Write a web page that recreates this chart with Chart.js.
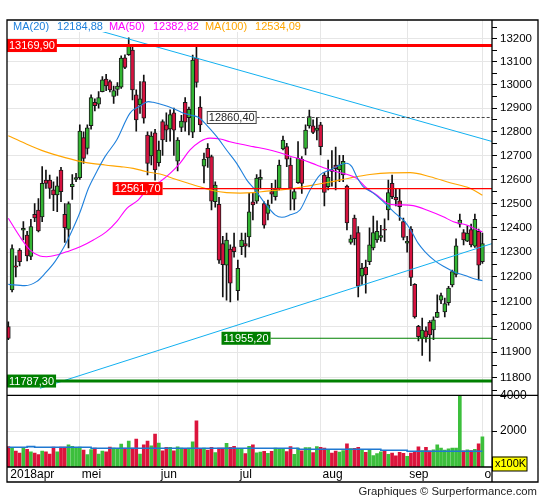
<!DOCTYPE html>
<html>
<head>
<meta charset="utf-8">
<script src="https://cdn.jsdelivr.net/npm/chart.js@4.4.1/dist/chart.umd.min.js"></script>
<style>
  html, body { margin: 0; padding: 0; background: #fff; }
  #wrap { position: relative; width: 545px; height: 500px; }
  #wrap canvas { position: absolute; left: 0; top: 0; }
</style>
</head>
<body>
<div id="wrap">
  <canvas id="vol" width="545" height="500"></canvas>
  <canvas id="price" width="545" height="500"></canvas>
</div>
<script>
// ---- data (trading day index 0 = 4 apr 2018 ... 126 = 1 okt 2018) ----
const monthLabels = ['2018apr', 'mei', 'jun', 'jul', 'aug', 'sep', 'okt'];
const monthStarts = [0, 19, 40, 61, 83, 106, 126];

const opens = [
  12001,12148,12245,12309,12390,12370,12283,12455,12473,12445,
  12597,12597,12556,12535,12639,12455,12393,12570,12600,12607,
  12775,12730,12826,12925,12917,12971,13025,13014,12950,12980,
  12990,13117,13130,13150,12957,12914,13014,12786,12698,12795,
  12670,12843,12829,12812,12880,12676,12818,12925,12860,12798,
  13115,12905,12655,12730,12695,12507,12496,12335,12248,12313,
  12322,12145,12323,12335,12363,12507,12510,12600,12500,12459,
  12549,12528,12562,12727,12737,12660,12518,12586,12684,12730,
  12825,12825,12805,12829,12618,12570,12640,12660,12640,12618,
  12572,12340,12440,12380,12203,12240,12262,12318,12350,12360,
  12395,12473,12583,12525,12511,12425,12337,12395,12170,12002,
  11955,11985,12018,11988,12038,12107,12060,12097,12168,12210,
  12415,12380,12345,12393,12325,12385,12262
];
const highs = [
  12020,12330,12285,12315,12425,12385,12435,12500,12520,12653,
  12639,12618,12590,12611,12650,12500,12507,12620,12625,12829,
  12800,12829,12957,12940,12971,13035,13045,13020,12995,13010,
  13125,13130,13204,13165,12978,13014,13042,12800,12800,12810,
  12760,12850,12880,12893,12900,12775,12870,12945,12905,13128,
  13169.9,12950,12710,12750,12702,12590,12525,12365,12378,12330,
  12378,12268,12378,12378,12542,12542,12620,12640,12507,12514,
  12583,12597,12681,12782,12751,12690,12562,12758,12695,12829,
  12892,12850,12860,12840,12628,12681,12720,12735,12700,12700,
  12576,12370,12452,12405,12255,12268,12400,12448,12428,12410,
  12437,12597,12618,12560,12560,12440,12365,12405,12173,12006,
  12035,12000,12025,12040,12128,12135,12115,12162,12228,12355,
  12456,12393,12408,12415,12456,12395,12378
];
const lows = [
  11950,12140,12200,12245,12350,12265,12270,12425,12383,12425,
  12562,12521,12470,12466,12507,12340,12318,12517,12590,12600,
  12667,12705,12811,12888,12900,12970,12975,12970,12920,12955,
  12985,13070,13127,12935,12802,12878,12836,12618,12660,12597,
  12655,12700,12758,12760,12700,12635,12800,12802,12786,12775,
  12990,12800,12585,12650,12473,12485,12255,12120,12107,12100,
  12280,12107,12290,12280,12322,12432,12500,12560,12398,12432,
  12500,12514,12556,12723,12653,12473,12473,12583,12542,12702,
  12815,12792,12765,12702,12490,12556,12572,12556,12590,12590,
  12391,12333,12330,12120,12170,12135,12250,12309,12340,12345,
  12343,12432,12520,12490,12430,12350,12300,12165,12035,11945,
  11888,11940,11865,11950,12038,12093,12040,12087,12160,12200,
  12402,12330,12343,12322,12320,12188,12255
];
const closes = [
  11955,12315,12240,12262,12398,12285,12405,12440,12387,12583,
  12583,12562,12535,12573,12549,12400,12500,12580,12607,12803,
  12688,12817,12945,12911,12945,13021,12995,12978,12975,12995,
  13115,13075,13170,12978,12850,12940,12857,12667,12782,12639,
  12723,12765,12807,12873,12807,12765,12845,12840,12895,13107,
  13010,12829,12685,12690,12510,12576,12268,12250,12350,12175,
  12302,12235,12350,12325,12465,12494,12605,12608,12411,12494,
  12538,12560,12660,12765,12684,12562,12549,12688,12583,12807,
  12864,12797,12815,12737,12546,12608,12633,12645,12660,12675,
  12420,12355,12355,12163,12235,12208,12330,12380,12385,12368,
  12390,12545,12528,12515,12487,12360,12345,12198,12040,11962,
  11988,11960,11968,12028,12058,12125,12093,12155,12222,12326,
  12432,12350,12378,12330,12435,12248,12335
];
// volume in units of 100K
const volumes = [
  1135,1100,890,780,1040,985,840,780,690,890,
  840,725,1115,840,1115,1115,1230,1155,1100,1115,
  950,690,970,1060,725,890,840,1115,1060,985,
  1280,1060,1450,1060,1560,725,1230,1450,1180,1840,
  1340,900,1100,1100,900,1120,1060,980,1060,1400,
  2570,1000,1060,950,1100,800,1060,1060,1320,1100,
  1150,980,980,750,1150,1230,790,830,880,760,
  880,1060,1020,1000,860,1135,700,1060,900,1090,
  1080,800,1140,1100,1050,960,780,890,830,920,
  1290,1030,1040,1100,940,820,950,640,750,850,
  880,700,780,620,820,760,600,780,850,1130,
  920,1100,900,960,1230,1050,950,1020,1050,1060,
  3980,900,960,920,980,1290,1690
];
// average volume line (step values, from index)
const volAvgFrom = [0, 5, 7, 22, 77, 99, 106, 126];
const volAvgVal = [1100, 1135, 1100, 1045, 990, 935, 880, 880];

// moving averages
const ma20Idx = [0,4.4,7.5,9.8,12.4,14.6,16.8,19.1,21.3,23.5,25.7,28.8,32.3,35,37.2,38.5,41.2,43.8,46.1,48.3,50.5,52.7,55.4,58,60.7,63.4,65.6,68.2,70.9,72.7,74.9,77.5,80.2,82.8,85.5,88.1,89.9,91.3,92.6,94.3,97,99.2,101,102.8,105.4,107.2,108.9,110.7,113.4,116,118.7,121.4,124,126];
const ma20Val = [12170,12165,12181,12215,12262,12316,12384,12466,12563,12632,12695,12765,12878,12909,12928,12925,12914,12899,12882,12871,12861,12828,12779,12723,12667,12597,12556,12501,12453,12443,12453,12473,12556,12618,12639,12660,12667,12653,12611,12570,12543,12514,12487,12460,12425,12384,12337,12303,12265,12240,12219,12206,12192,12185];
const ma50Idx = [0,3.1,5.8,8.4,10.2,12.9,15.5,19.1,22.6,26.1,28.8,31.5,34.5,36.8,40.3,43,45.6,48.3,50.9,53.6,56.3,58.9,61.6,65.1,68.7,72.2,74.9,78.4,81.9,85.5,89,92.6,95.2,97.9,100.6,102.8,105,107.6,111.2,115.6,118.3,121.8,124.5,126];
const ma50Val = [12439,12363,12309,12285,12282,12289,12302,12322,12350,12384,12425,12480,12514,12556,12590,12625,12667,12723,12758,12773,12769,12758,12748,12737,12726,12711,12697,12681,12660,12639,12625,12604,12564,12535,12502,12494,12494,12491,12473,12445,12425,12411,12393,12383];
const ma100Idx = [0,4.4,9.8,15.1,20.4,25.7,29.7,33.2,36.8,40.3,43.8,47.4,50.9,54.5,58,61.6,65.1,68.7,72.2,74.9,80.2,85.5,90.8,96.1,101.4,106.8,112.1,117.4,122.7,126];
const ma100Val = [12783,12751,12716,12691,12671,12660,12653,12646,12632,12622,12604,12586,12569,12553,12545,12543,12545,12551,12556,12560,12574,12589,12606,12620,12627,12628,12611,12586,12563,12534];
const maNames = ['MA(20)', 'MA(50)', 'MA(100)'];
const maLast = [12184.88, 12382.82, 12534.09];

// support / resistance levels, and the index where each level's line begins
const levels = [13169.90, 12860.40, 12561.70, 11955.20, 11787.30];
const levelFrom = [null, 66, 41, 69.7, null];

// trend lines (two points each)
const trendDownIdx = [14, 128.5];
const trendDownVal = [13282, 12759];
const trendUpIdx = [8.4, 128.5];
const trendUpVal = [11759, 12335];

const priceTicks = [11800,11900,12000,12100,12200,12300,12400,12500,12600,12700,12800,12900,13000,13100,13200];
const volTicks = [2000, 4000];

// ---- styles / layout ----
const FONT = '"Liberation Sans", Arial, sans-serif';
Chart.defaults.font.family = FONT;
const GRID = '#e6e6e6';
const UP = '#33b533', DOWN = '#d6123f';
const VOL_UP = '#3cbf3c', VOL_DOWN = '#dc143c';
const maColors = ['#1f80dc', '#ff00ff', '#ffa500'];
const TREND = '#12b0f0';
const levelColors = ['#ff0000', '#444444', '#ff0000', '#008000', '#008000'];
const levelWidths = [3, 1, 1.2, 1.2, 3];
const X_MIN = -0.35, X_MAX = 128.55;
const Y_MIN = 11731.9, Y_MAX = 13281.6;

const fmt = v => v.toFixed(2).replace('.', ',');
const isUp = i => closes[i] >= opens[i];
const pts = (xs, ys) => xs.map((x, k) => ({ x, y: ys[k] }));

const minorTicks = priceTicks.map(t => t - 50).concat([priceTicks[priceTicks.length - 1] + 50]);
const allPriceTicks = priceTicks.concat(minorTicks).sort((a, b) => a - b);

const xScaleBase = () => ({
  type: 'linear', min: X_MIN, max: X_MAX, offset: false,
  afterBuildTicks: s => { s.ticks = monthStarts.slice(1).map(v => ({ value: v })); },
  grid: { color: GRID, drawTicks: false, offset: false },
  border: { display: false },
  ticks: { display: false },
  afterFit: s => { s.height = 0; }
});

// overlay on the price panel: level boxes, legend, frame
const priceOverlay = {
  id: 'priceOverlay',
  afterDatasetsDraw(chart) {
    const { ctx, chartArea: a, scales: { x, y } } = chart;
    ctx.save();
    ctx.font = '11px ' + FONT;
    ctx.textBaseline = 'middle';
    ctx.textAlign = 'left';
    levels.forEach((v, k) => {
      const py = y.getPixelForValue(v);
      const text = fmt(v);
      const w = ctx.measureText(text).width + 4;
      const right = levelFrom[k] === null ? a.left + w : x.getPixelForValue(levelFrom[k]);
      const hollow = levelColors[k] === '#444444';
      ctx.fillStyle = hollow ? '#fff' : levelColors[k];
      ctx.fillRect(right - w, py - 6.5, w, 13);
      if (hollow) {
        ctx.strokeStyle = '#444';
        ctx.lineWidth = 1;
        ctx.strokeRect(right - w + 0.5, py - 6, w - 1, 12);
      }
      ctx.fillStyle = hollow ? '#222' : '#fff';
      ctx.fillText(text, right - w + 2, py + 0.5);
    });

    // legend strip
    ctx.fillStyle = '#fff';
    ctx.fillRect(a.left + 1, a.top + 1, 300, 11);
    let lx = a.left + 6;
    maNames.forEach((n, k) => {
      ctx.fillStyle = maColors[k];
      ctx.fillText(n, lx, a.top + 7);
      lx += ctx.measureText(n).width + 8;
      const val = fmt(maLast[k]);
      ctx.fillText(val, lx, a.top + 7);
      lx += ctx.measureText(val).width + 6;
    });
    ctx.restore();
  },
  afterDraw(chart) {
    const { ctx, chartArea: a } = chart;
    const right = 538, volBottom = 467, bottom = 482;
    ctx.save();
    ctx.strokeStyle = '#000';
    ctx.lineWidth = 1.3;
    ctx.beginPath();
    ctx.rect(a.left, a.top, right - a.left, bottom - a.top);
    ctx.moveTo(a.right, a.top); ctx.lineTo(a.right, bottom);
    ctx.moveTo(a.left, a.bottom); ctx.lineTo(right, a.bottom);
    ctx.moveTo(a.left, volBottom); ctx.lineTo(a.right, volBottom);
    ctx.stroke();
    ctx.restore();
  }
};

// overlay on the volume panel: date labels, unit box, credit
const volOverlay = {
  id: 'volOverlay',
  afterDraw(chart) {
    const { ctx, chartArea: a, scales: { x } } = chart;
    ctx.save();
    ctx.beginPath();
    ctx.rect(a.left, a.bottom, a.right - a.left - 1, 16);
    ctx.clip();
    ctx.font = '12px ' + FONT;
    ctx.fillStyle = '#000';
    ctx.textBaseline = 'middle';
    ctx.textAlign = 'left';
    monthLabels.forEach((m, k) => ctx.fillText(m, x.getPixelForValue(monthStarts[k]) + 2, a.bottom + 8));
    ctx.restore();

    ctx.save();
    ctx.fillStyle = '#ffff00';
    ctx.fillRect(a.right, a.bottom - 10.3, 35, 14.3);
    ctx.strokeStyle = '#000';
    ctx.lineWidth = 1;
    ctx.strokeRect(a.right + 0.5, a.bottom - 10, 34.5, 14);
    ctx.font = '11px ' + FONT;
    ctx.fillStyle = '#000';
    ctx.textBaseline = 'middle';
    ctx.fillText('x100K', a.right + 3, a.bottom - 2.8);
    ctx.font = '11.3px ' + FONT;
    ctx.fillStyle = '#222';
    ctx.textAlign = 'right';
    ctx.fillText('Graphiques \u00a9 Surperformance.com', 537, 492);
    ctx.restore();
  }
};

const idx = opens.map((_, i) => i);

new Chart(document.getElementById('vol'), {
  type: 'bar',
  data: {
    datasets: [
      {
        type: 'line',
        data: pts(volAvgFrom, volAvgVal),
        borderColor: '#1f78d1',
        borderWidth: 1.6,
        stepped: true,
        pointRadius: 0,
        order: 1
      },
      {
        data: idx.map(i => ({ x: i, y: volumes[i] })),
        backgroundColor: idx.map(i => isUp(i) ? VOL_UP : VOL_DOWN),
        barThickness: 3,
        order: 2
      }
    ]
  },
  options: {
    responsive: false,
    animation: false,
    layout: { padding: { top: 395.3, left: 7, right: 7, bottom: 33 }, autoPadding: false },
    plugins: { legend: { display: false }, tooltip: { enabled: false } },
    scales: {
      x: xScaleBase(),
      y: {
        type: 'linear', position: 'right', min: 0, max: 4000,
        afterBuildTicks: s => { s.ticks = volTicks.map(v => ({ value: v })); },
        grid: {
          color: c => c.tick && c.tick.value === 2000 ? GRID : 'rgba(0,0,0,0)',
          tickColor: '#000', tickLength: 5
        },
        border: { display: false },
        ticks: { color: '#000', font: { size: 12 }, padding: 3, autoSkip: false, callback: v => String(v) },
        afterFit: s => { s.width = 46; }
      }
    }
  },
  plugins: [volOverlay]
});

const maLine = (xs, ys, color, order) => ({
  type: 'line',
  data: pts(xs, ys),
  borderColor: color,
  borderWidth: 1.1,
  pointRadius: 0,
  cubicInterpolationMode: 'monotone',
  order
});

const levelDatasets = levels.map((v, k) => ({
  type: 'line',
  data: [{ x: levelFrom[k] === null ? X_MIN : levelFrom[k], y: v }, { x: X_MAX, y: v }],
  borderColor: levelColors[k],
  borderWidth: levelWidths[k],
  borderDash: levelColors[k] === '#444444' ? [3, 2] : [],
  pointRadius: 0,
  order: 1
}));

new Chart(document.getElementById('price'), {
  type: 'bar',
  data: {
    datasets: [
      {
        // wicks
        data: idx.map(i => ({ x: i, y: [lows[i], highs[i]] })),
        backgroundColor: '#111',
        barThickness: 1,
        grouped: false,
        order: 9
      },
      {
        // bodies
        data: idx.map(i => ({ x: i, y: [opens[i], closes[i]] })),
        backgroundColor: idx.map(i => isUp(i) ? UP : DOWN),
        borderColor: '#1a1a1a',
        borderWidth: 1,
        borderSkipped: false,
        barThickness: 4,
        minBarLength: 1,
        grouped: false,
        order: 8
      },
      maLine(ma100Idx, ma100Val, maColors[2], 5),
      maLine(ma50Idx, ma50Val, maColors[1], 4),
      maLine(ma20Idx, ma20Val, maColors[0], 3),
      { type: 'line', data: pts(trendDownIdx, trendDownVal), borderColor: TREND, borderWidth: 1, pointRadius: 0, order: 2 },
      { type: 'line', data: pts(trendUpIdx, trendUpVal), borderColor: TREND, borderWidth: 1, pointRadius: 0, order: 2 },
      ...levelDatasets
    ]
  },
  options: {
    responsive: false,
    animation: false,
    layout: { padding: { top: 20, left: 7, right: 7, bottom: 104.7 }, autoPadding: false },
    plugins: { legend: { display: false }, tooltip: { enabled: false } },
    scales: {
      x: xScaleBase(),
      y: {
        type: 'logarithmic', position: 'right', min: Y_MIN, max: Y_MAX, bounds: 'data',
        afterBuildTicks: s => { s.ticks = allPriceTicks.map(v => ({ value: v })); },
        grid: {
          color: c => c.tick && priceTicks.includes(c.tick.value) ? GRID : 'rgba(0,0,0,0)',
          tickColor: '#000', tickLength: 5
        },
        border: { display: false },
        ticks: {
          color: '#000', font: { size: 11.5 }, padding: 3, autoSkip: false,
          callback: v => priceTicks.includes(v) ? String(v) : ''
        },
        afterFit: s => { s.width = 46; }
      }
    }
  },
  plugins: [priceOverlay]
});
</script>
</body>
</html>
